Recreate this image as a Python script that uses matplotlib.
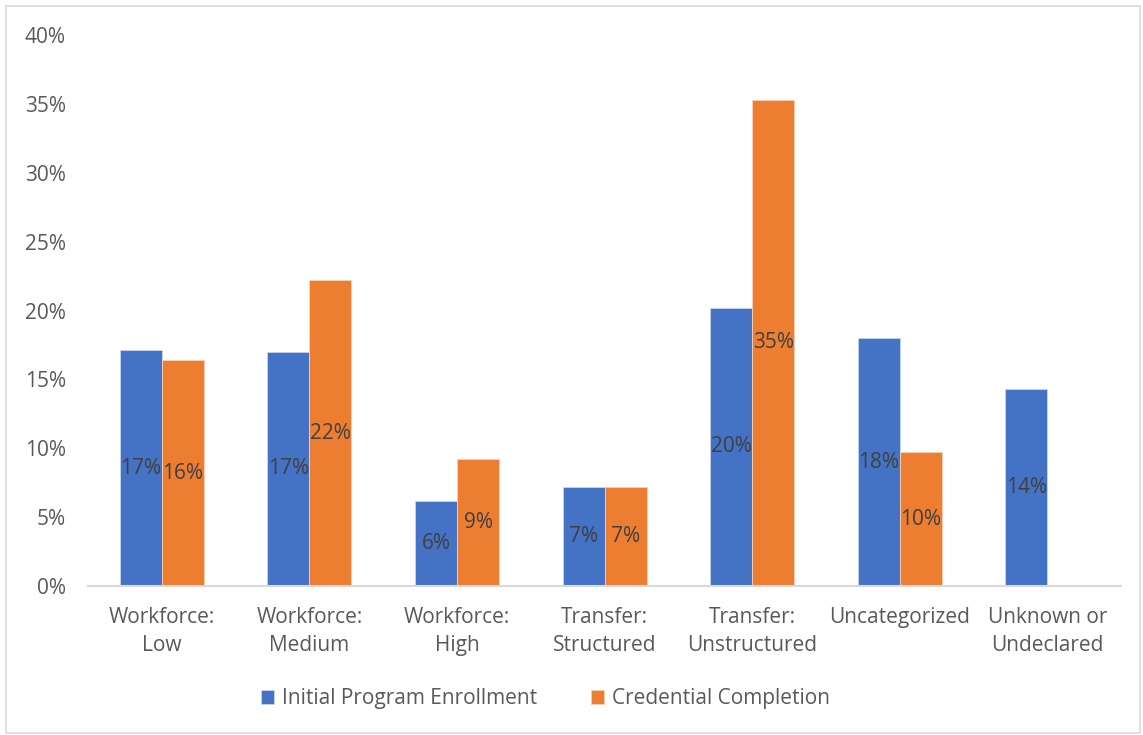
import matplotlib.pyplot as plt
import numpy as np
from matplotlib.patches import Rectangle

# Categories and series (percent)
categories = ["Workforce:\nLow", "Workforce:\nMedium", "Workforce:\nHigh",
              "Transfer:\nStructured", "Transfer:\nUnstructured",
              "Uncategorized", "Unknown or\nUndeclared"]
enrollment = [17.1, 17.0, 6.2, 7.2, 20.2, 18.0, 14.3]
completion = [16.4, 22.2, 9.2, 7.2, 35.3, 9.7, 0.0]
series_names = ["Initial Program Enrollment", "Credential Completion"]
y_ticks = [0, 5, 10, 15, 20, 25, 30, 35, 40]

blue = "#4472C4"
orange = "#ED7D31"
tick_color = "#595959"
label_color = "#404040"
fs = 15

plt.rcParams["font.family"] = ["Open Sans", "DejaVu Sans"]

fig = plt.figure(figsize=(11.43, 7.35), dpi=100)
ax = fig.add_axes([0.077, 0.2027, 0.904, 0.7497])

x = np.arange(len(categories))
w = 0.285
b1 = ax.bar(x - w / 2, enrollment, w, color=blue, edgecolor="#c9d6ee", linewidth=0.6)
b2 = ax.bar(x + w / 2, completion, w, color=orange, edgecolor="#f8d2b8", linewidth=0.6)

for bars, vals in ((b1, enrollment), (b2, completion)):
    for bar, v in zip(bars, vals):
        if v <= 0:
            continue
        ax.text(bar.get_x() + bar.get_width() / 2, v / 2, f"{v:.0f}%",
                ha="center", va="center", fontsize=fs, color=label_color)

ax.set_xlim(-0.5, len(categories) - 0.5)
ax.set_ylim(0, 40)
ax.set_yticks(y_ticks)
ax.set_yticklabels([f"{t}%" for t in y_ticks])
ax.set_xticks(x)
ax.set_xticklabels(categories, linespacing=1.45)
ax.tick_params(axis="both", length=0, labelsize=fs, colors=tick_color)
ax.tick_params(axis="y", pad=16)
ax.tick_params(axis="x", pad=15)

for s in ["top", "right", "left"]:
    ax.spines[s].set_visible(False)
ax.spines["bottom"].set_color("#d9d9d9")
ax.spines["bottom"].set_linewidth(1.5)

leg = fig.legend([b1, b2], series_names, loc="center", ncol=2,
                 bbox_to_anchor=(0.477, 0.049), frameon=False, fontsize=fs,
                 handlelength=0.65, handleheight=0.65, columnspacing=2.6,
                 handletextpad=0.35)
for t in leg.get_texts():
    t.set_color(tick_color)

fig.patches.append(Rectangle((0.005, 0.003), 0.992, 0.989, transform=fig.transFigure,
                             fill=False, edgecolor="#d9d9d9", linewidth=1.2))

fig.savefig("out.png", dpi=100)
